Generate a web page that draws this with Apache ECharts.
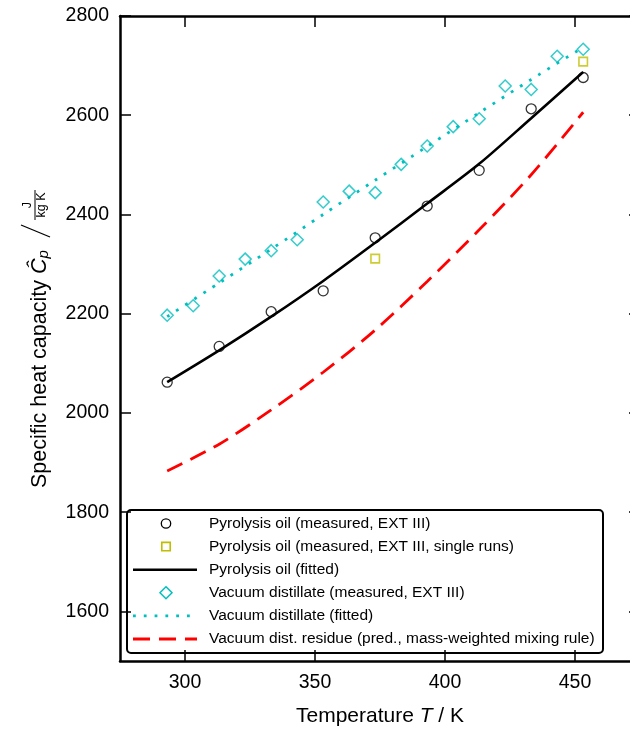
<!DOCTYPE html>
<html>
<head>
<meta charset="utf-8">
<script src="https://cdn.jsdelivr.net/npm/echarts@6/dist/echarts.min.js"></script>
<style>
html,body{margin:0;padding:0;background:#fff;}
#c{width:630px;height:729px;}
</style>
</head>
<body>
<div id="c"></div>
<script>
// ---- data ----
const T20 = [293.15, 313.15, 333.15, 353.15, 373.15, 393.15, 413.15, 433.15, 453.15];
const pyroMeasured = [2062, 2134, 2204, 2246, 2353, 2417, 2489, 2613, 2676];
const pyroSingleT = [373.15, 453.15];
const pyroSingle = [2311, 2708];
const pyroFitted = [2062, 2126, 2194, 2266, 2343, 2422, 2502, 2594, 2687];
const T10 = [293.15, 303.15, 313.15, 323.15, 333.15, 343.15, 353.15, 363.15, 373.15,
             383.15, 393.15, 403.15, 413.15, 423.15, 433.15, 443.15, 453.15];
const vacMeasured = [2197, 2216, 2276, 2310, 2327, 2349, 2425, 2447, 2444,
                     2501, 2538, 2577, 2593, 2659, 2652, 2719, 2733];
const vacFitted = [2194, 2262, 2330, 2400, 2469, 2537, 2605, 2672, 2737];
const residuePred = [1883, 1937, 2006, 2082, 2167, 2265, 2369, 2480, 2606];

const xTicks = [300, 350, 400, 450];
const yTicks = [1600, 1800, 2000, 2200, 2400, 2600, 2800];

const names = [
  'Pyrolysis oil (measured, EXT III)',
  'Pyrolysis oil (measured, EXT III, single runs)',
  'Pyrolysis oil (fitted)',
  'Vacuum distillate (measured, EXT III)',
  'Vacuum distillate (fitted)',
  'Vacuum dist. residue (pred., mass-weighted mixing rule)'
];

const zip = (xs, ys) => xs.map((x, i) => [x, ys[i]]);
const FONT = 'Liberation Sans';
const CYAN = '#00BFBF', YEL = '#BFBF00', RED = '#FF0000';

const chart = echarts.init(document.getElementById('c'), null, {renderer: 'canvas'});

const axisLine = {show: true, lineStyle: {color: '#000', width: 2.5}};
const tick = (vals) => ({show: true, inside: true, length: 11, lineStyle: {color: '#000', width: 1.5}, customValues: vals});
const fmt = v => String(v);

// legend drawn as graphic (not data)
const LX = 127, LY = 510, LW = 476, LH = 143;
const rowY = i => LY + 13.5 + i * 23.1;
const legendChildren = [
  {type: 'rect', shape: {x: LX, y: LY, width: LW, height: LH, r: 4},
   style: {fill: '#fff', stroke: '#000', lineWidth: 2}},
  {type: 'circle', shape: {cx: 166, cy: rowY(0), r: 4.7}, style: {fill: 'none', stroke: '#000', lineWidth: 1.3}},
  {type: 'rect', shape: {x: 166 - 4.2, y: rowY(1) - 4.2, width: 8.4, height: 8.4}, style: {fill: 'none', stroke: YEL, lineWidth: 1.6}},
  {type: 'line', shape: {x1: 133, y1: rowY(2), x2: 197, y2: rowY(2)}, style: {stroke: '#000', lineWidth: 2.6}},
  {type: 'polygon', shape: {points: [[166, rowY(3) - 6], [172, rowY(3)], [166, rowY(3) + 6], [160, rowY(3)]]}, style: {fill: 'none', stroke: CYAN, lineWidth: 1.5}},
  {type: 'line', shape: {x1: 133, y1: rowY(4), x2: 197, y2: rowY(4)}, style: {stroke: CYAN, lineWidth: 2.8, lineDash: [2.8, 8]}},
  {type: 'line', shape: {x1: 133, y1: rowY(5), x2: 197, y2: rowY(5)}, style: {stroke: RED, lineWidth: 2.8, lineDash: [17, 9]}}
];
names.forEach((n, i) => legendChildren.push({type: 'text', x: 209, y: rowY(i),
  style: {text: n, font: '15.5px "Liberation Sans"', fill: '#000', verticalAlign: 'middle', align: 'left'}}));

chart.setOption({
  animation: false,
  backgroundColor: '#fff',
  grid: {left: 120, top: 16, width: 520, height: 645, containLabel: false, outerBoundsMode: 'none'},
  xAxis: [
    {type: 'value', min: 275, max: 475, position: 'bottom',
     axisLine: axisLine, axisTick: tick(xTicks), splitLine: {show: false},
     axisLabel: {customValues: xTicks, formatter: fmt, color: '#000', fontFamily: FONT, fontSize: 19.5, margin: 12},
     name: 'Temperature {it|T} / K', nameLocation: 'middle', nameGap: 45,
     nameTextStyle: {color: '#000', fontFamily: FONT, fontSize: 21,
       rich: {it: {fontStyle: 'italic', fontFamily: FONT, fontSize: 21, color: '#000'}}}},
    {type: 'value', min: 275, max: 475, position: 'top',
     axisLine: axisLine, axisTick: tick(xTicks), splitLine: {show: false},
     axisLabel: {show: false}}
  ],
  yAxis: [
    {type: 'value', min: 1500, max: 2800, position: 'left',
     axisLine: axisLine, axisTick: tick(yTicks), splitLine: {show: false},
     axisLabel: {customValues: yTicks, formatter: fmt, color: '#000', fontFamily: FONT, fontSize: 19.5, margin: 11}},
    {type: 'value', min: 1500, max: 2800, position: 'right',
     axisLine: axisLine, axisTick: tick(yTicks), splitLine: {show: false},
     axisLabel: {show: false}}
  ],
  series: [
    {name: names[0], type: 'scatter', data: zip(T20, pyroMeasured),
     symbol: 'circle', symbolSize: 10,
     itemStyle: {color: 'rgba(0,0,0,0)', borderColor: '#000', borderWidth: 1.3}},
    {name: names[1], type: 'scatter', data: zip(pyroSingleT, pyroSingle),
     symbol: 'rect', symbolSize: 8.5,
     itemStyle: {color: 'rgba(0,0,0,0)', borderColor: YEL, borderWidth: 1.6}},
    {name: names[2], type: 'line', data: zip(T20, pyroFitted), smooth: 0.3,
     symbol: 'none', lineStyle: {color: '#000', width: 2.6}},
    {name: names[3], type: 'scatter', data: zip(T10, vacMeasured),
     symbol: 'diamond', symbolSize: 12,
     itemStyle: {color: 'rgba(0,0,0,0)', borderColor: CYAN, borderWidth: 1.5}},
    {name: names[4], type: 'line', data: zip(T20, vacFitted), smooth: 0.3,
     symbol: 'none', lineStyle: {color: CYAN, width: 2.8, type: [2.8, 8]}},
    {name: names[5], type: 'line', data: zip(T20, residuePred), smooth: 0.3,
     symbol: 'none', lineStyle: {color: RED, width: 2.8, type: [17, 9]}}
  ],
  graphic: [
    {type: 'group', z: 100, children: legendChildren},
    {type: 'group', x: 40, y: 488, rotation: Math.PI / 2, children: [
      {type: 'text', x: 0, y: 0, style: {
        text: 'Specific heat capacity {it|Ĉ}{sub|p}',
        font: '21.5px "Liberation Sans"', fill: '#000', verticalAlign: 'middle', align: 'left',
        rich: {it: {fontStyle: 'italic', fontSize: 21.5, fontFamily: FONT},
               sub: {fontStyle: 'italic', fontSize: 15, fontFamily: FONT, padding: [8, 0, 0, 0]}}
      }},
      {type: 'line', shape: {x1: 251, y1: 10, x2: 263, y2: -19}, style: {stroke: '#000', lineWidth: 1.3}},
      {type: 'text', x: 283, y: -12, style: {text: 'J', font: '12.5px "Liberation Sans"', fill: '#000', verticalAlign: 'middle', align: 'center'}},
      {type: 'line', shape: {x1: 268, y1: -5, x2: 298, y2: -5}, style: {stroke: '#000', lineWidth: 1}},
      {type: 'text', x: 283, y: 2, style: {text: 'kg K', font: '12.5px "Liberation Sans"', fill: '#000', verticalAlign: 'middle', align: 'center'}}
    ]}
  ]
});
</script>
</body>
</html>
